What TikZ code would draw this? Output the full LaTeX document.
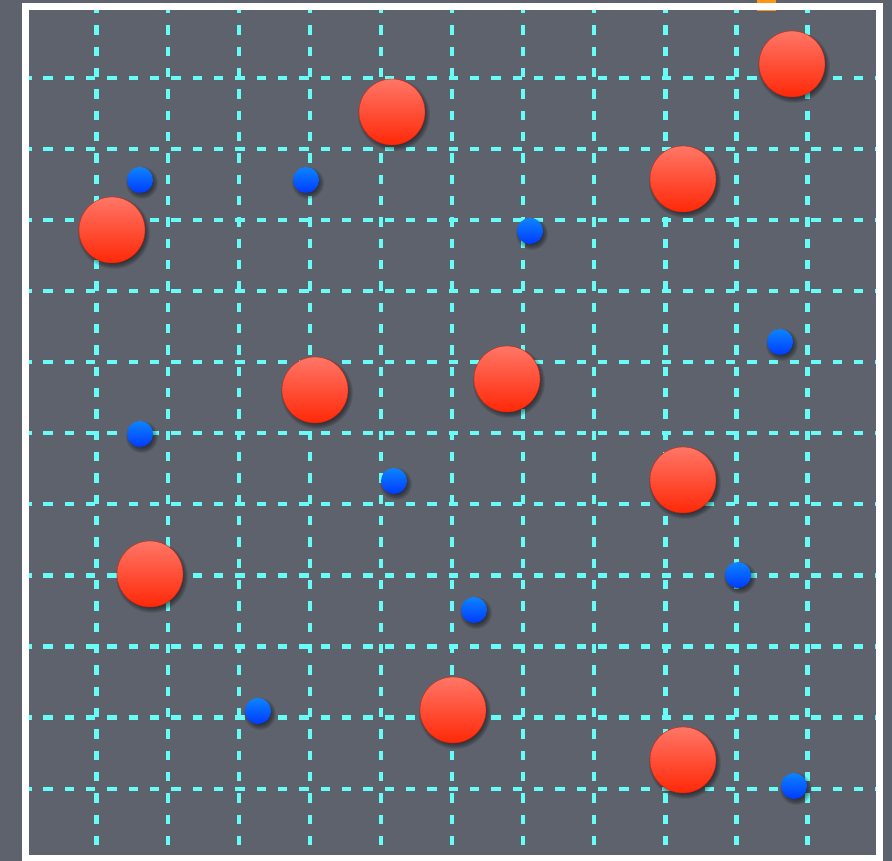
\documentclass[tikz,border=0pt]{standalone}
\definecolor{bggray}{RGB}{93,98,108}
\definecolor{gridcyan}{RGB}{104,252,246}
\definecolor{redtop}{RGB}{255,118,102}
\definecolor{redbot}{RGB}{255,40,8}
\definecolor{bluetop}{RGB}{12,132,255}
\definecolor{bluebot}{RGB}{0,58,255}
\definecolor{tagorange}{RGB}{255,150,20}
\tikzset{
  gridh/.style={draw=gridcyan, line width=4.3pt, dash pattern=on 9.5pt off 11.83pt, dash phase=7pt},
  gridv/.style={draw=gridcyan, line width=4.3pt, dash pattern=on 9.5pt off 11.83pt, dash phase=6pt},
  redball/.style={circle, inner sep=0pt, minimum size=66pt, top color=redtop, bottom color=redbot,
    draw=redbot!85!black, line width=0.4pt},
  blueball/.style={circle, inner sep=0pt, minimum size=26pt, top color=bluetop, bottom color=bluebot},
  shadowlayer/.style={fill=black, fill opacity=0.09},
  frame/.style={draw=white, line width=7pt}
}
\newcommand{\ballshadow}[2]{% #1 = coordinate name, #2 = radius
  \foreach \d in {5,4,3,2,1,0,-1,-2}{
    \fill[shadowlayer] ([shift={(2,3)}]#1) circle[radius=#2+\d];
  }
}
\begin{document}
\begin{tikzpicture}[x=1pt,y=-1pt]
\useasboundingbox (0,0) rectangle (892,861);
\fill[bggray] (0,0) rectangle (892,861);
% small orange tag at the top, mostly hidden by the frame
\fill[tagorange] (757,0) rectangle (776,11);
% grid
\foreach \j in {0,...,10}{
  \pgfmathsetmacro{\yy}{77.7+71.1*\j}
  \draw[gridh] (29,\yy) -- (876,\yy);
}
\foreach \i in {0,...,10}{
  \pgfmathsetmacro{\xx}{96.6+71.1*\i}
  \draw[gridv] (\xx,10) -- (\xx,855);
}
% frame
\draw[frame] (25.5,6.5) rectangle (879.5,858.5);
% positions
\coordinate (pr1) at (792,64);
\coordinate (pr2) at (392,112);
\coordinate (pr3) at (683,179);
\coordinate (pr4) at (112,230);
\coordinate (pr5) at (315,390);
\coordinate (pr6) at (507,379);
\coordinate (pr7) at (683,480);
\coordinate (pr8) at (150,574);
\coordinate (pr9) at (453,710);
\coordinate (pr10) at (683,760);
\coordinate (pb1) at (140,180);
\coordinate (pb2) at (306,180);
\coordinate (pb3) at (530,231);
\coordinate (pb4) at (780,342);
\coordinate (pb5) at (140,434);
\coordinate (pb6) at (394,481);
\coordinate (pb7) at (738,575);
\coordinate (pb8) at (474,610);
\coordinate (pb9) at (258,711);
\coordinate (pb10) at (794,786);
% shadows
\foreach \k in {1,...,10}{\ballshadow{pr\k}{31}}
\foreach \k in {1,...,10}{\ballshadow{pb\k}{11}}
% red balls
\foreach \k in {1,...,10}{\node[redball] (r\k) at (pr\k) {};}
% blue balls
\foreach \k in {1,...,10}{\node[blueball] (b\k) at (pb\k) {};}
\end{tikzpicture}
\end{document}
